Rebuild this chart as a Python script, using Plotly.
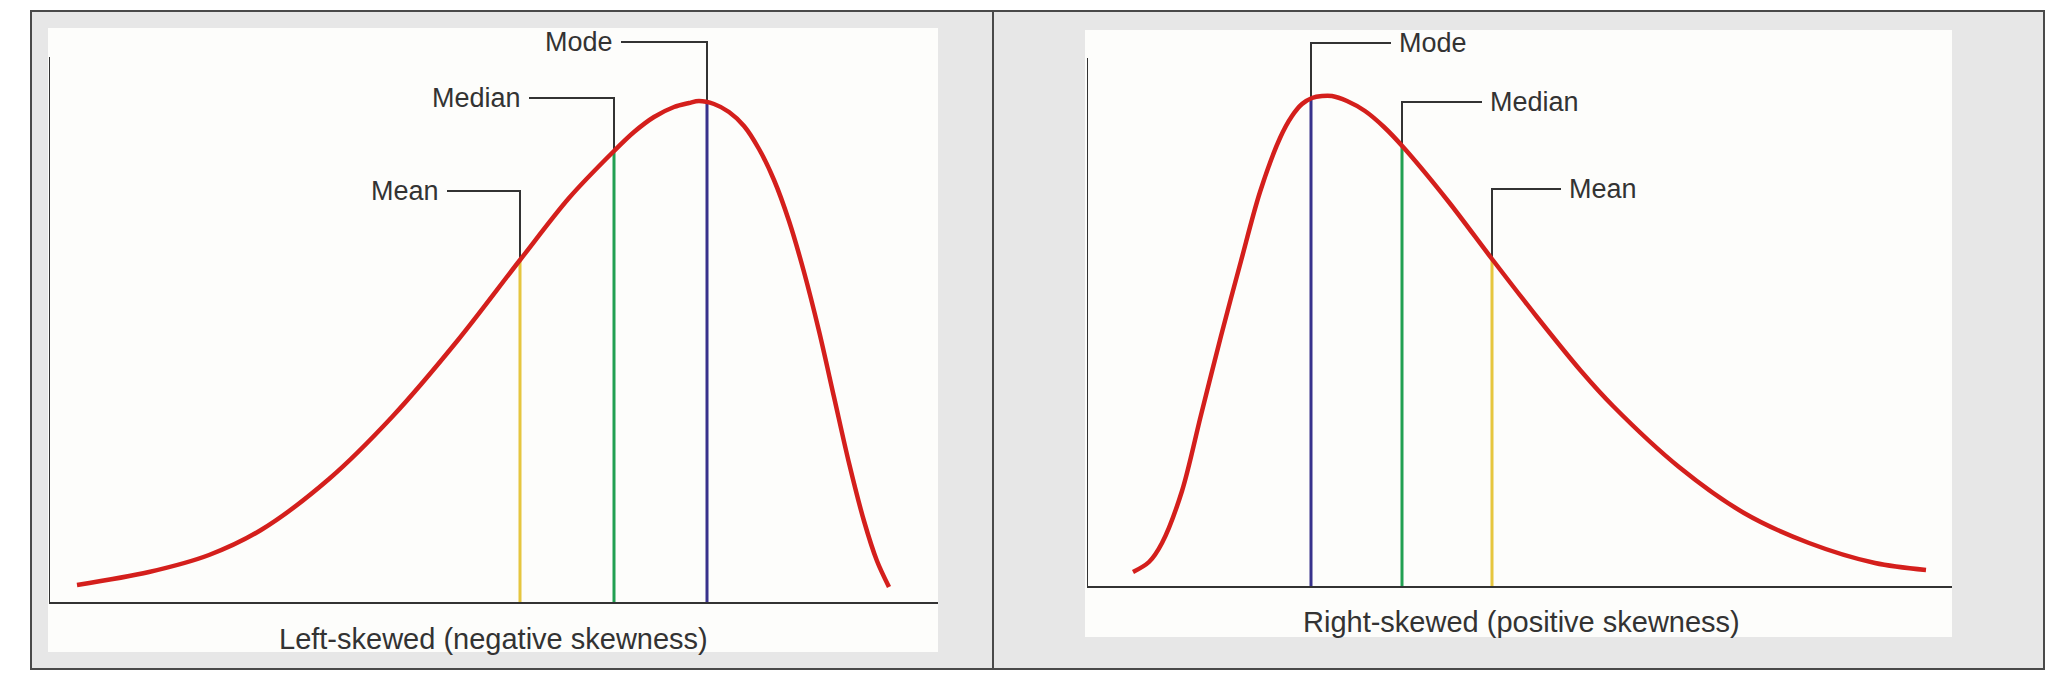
import plotly.graph_objects as go

W, H = 2050, 680

# ---------------- data (chart units) ----------------
# Left panel: left-skewed distribution
left_curve_x = [28, 100, 160, 212, 280, 343, 409, 471, 520, 565, 585, 605, 625, 640,
                650, 665, 680, 695, 710, 725, 740, 755, 770, 785, 800, 815, 828, 840]
left_curve_y = [17, 30, 47, 72, 123, 185, 262, 342, 404, 451, 470, 485, 495, 499,
                501, 498, 490, 476, 453, 422, 381, 330, 271, 205, 139, 81, 41, 15]
left_stat_names = ["Mean", "Median", "Mode"]
left_stat_x = [471, 565, 658]
left_stat_y = [342, 451, 499]
left_caption = "Left-skewed (negative skewness)"

# Right panel: right-skewed distribution
right_curve_x = [46, 62, 75, 95, 114, 134, 154, 173, 193, 205, 215, 225, 235, 245, 260,
                 278, 297, 317, 361, 405, 450, 494, 526, 592, 657, 722, 788, 839]
right_curve_y = [14, 24, 43, 95, 171, 250, 325, 394, 448, 470, 482, 488, 490, 490, 485,
                 475, 459, 438, 385, 327, 269, 215, 180, 119, 73, 43, 23, 16]
right_stat_names = ["Mode", "Median", "Mean"]
right_stat_x = [224, 315, 405]
right_stat_y = [488, 440, 327]
right_caption = "Right-skewed (positive skewness)"

# ---------------- styles / layout ----------------
stat_colors = {"Mean": "#e6c63e", "Median": "#22a052", "Mode": "#38328c"}
curve_color = "#d41f1c"
ink = "#333333"
font_family = "Liberation Sans, Arial, Helvetica, sans-serif"

# label levels (chart units) and horizontal leader length
left_label_y = [411, 504, 560]
left_leader = [73, 85, 86]
right_label_y = [543, 484, 397]
right_leader = [80, 80, 69]
left_yaxis_top = 545
right_yaxis_top = 528


def px(x):
    return x / W


def py(y):
    return 1 - y / H


fig = go.Figure()


def add_panel(xa, ya, cx, cy, names, sx, sy, label_y, leader, side, ytop):
    xr = "x" if xa == "xaxis" else "x2"
    yr = "y" if ya == "yaxis" else "y2"
    # y axis line
    fig.add_trace(go.Scatter(x=[0, 0], y=[0, ytop], mode="lines",
                             line=dict(color=ink, width=2), xaxis=xr, yaxis=yr,
                             hoverinfo="skip", showlegend=False))
    # coloured stat lines
    for n, x, y in zip(names, sx, sy):
        fig.add_trace(go.Scatter(x=[x, x], y=[0, y], mode="lines",
                                 line=dict(color=stat_colors[n], width=3),
                                 xaxis=xr, yaxis=yr, hoverinfo="skip", showlegend=False))
    # leaders + labels
    for n, x, y, ly, ld in zip(names, sx, sy, label_y, leader):
        x0 = x - ld if side == "left" else x + ld
        fig.add_trace(go.Scatter(x=[x0, x, x], y=[ly, ly, y], mode="lines",
                                 line=dict(color=ink, width=2),
                                 xaxis=xr, yaxis=yr, hoverinfo="skip", showlegend=False))
        fig.add_annotation(x=x0 - 6 if side == "left" else x0 + 6, y=ly, xref=xr, yref=yr,
                           text=n, showarrow=False,
                           xanchor="right" if side == "left" else "left",
                           yanchor="middle",
                           font=dict(family=font_family, size=27, color=ink))
    # the distribution curve
    fig.add_trace(go.Scatter(x=cx, y=cy, mode="lines",
                             line=dict(color=curve_color, width=4.5, shape="spline",
                                       smoothing=0.9),
                             xaxis=xr, yaxis=yr, hoverinfo="skip", showlegend=False))


add_panel("xaxis", "yaxis", left_curve_x, left_curve_y, left_stat_names,
          left_stat_x, left_stat_y, left_label_y, left_leader, "left", left_yaxis_top)
add_panel("xaxis2", "yaxis2", right_curve_x, right_curve_y, right_stat_names,
          right_stat_x, right_stat_y, right_label_y, right_leader, "right", right_yaxis_top)

# captions
fig.add_annotation(x=px(493), y=py(639), xref="paper", yref="paper", text=left_caption,
                   showarrow=False, xanchor="center", yanchor="middle",
                   font=dict(family=font_family, size=29, color=ink))
fig.add_annotation(x=px(1521), y=py(622), xref="paper", yref="paper", text=right_caption,
                   showarrow=False, xanchor="center", yanchor="middle",
                   font=dict(family=font_family, size=29, color=ink))

shapes = [
    # grey frame
    dict(type="rect", xref="paper", yref="paper", x0=px(31), x1=px(2044), y0=py(669), y1=py(11),
         fillcolor="#e7e7e7", line=dict(color="#4a4a4a", width=2), layer="below"),
    # divider
    dict(type="line", xref="paper", yref="paper", x0=px(993), x1=px(993), y0=py(669), y1=py(11),
         line=dict(color="#4a4a4a", width=2), layer="below"),
    # white image areas
    dict(type="rect", xref="paper", yref="paper", x0=px(48), x1=px(938), y0=py(652), y1=py(28),
         fillcolor="#fdfdfb", line=dict(width=0), layer="below"),
    dict(type="rect", xref="paper", yref="paper", x0=px(1085), x1=px(1952), y0=py(637), y1=py(30),
         fillcolor="#fdfdfb", line=dict(width=0), layer="below"),
]

axis_common = dict(showgrid=False, zeroline=False, showticklabels=False, ticks="",
                   fixedrange=True)
fig.update_layout(
    width=W, height=H, margin=dict(l=0, r=0, t=0, b=0),
    paper_bgcolor="white", plot_bgcolor="rgba(0,0,0,0)",
    showlegend=False, shapes=shapes,
    xaxis=dict(domain=[px(49), px(938)], range=[0, 889], showline=True, linecolor=ink,
               linewidth=2, anchor="y", **axis_common),
    yaxis=dict(domain=[py(602), py(28)], range=[0, 574], showline=False, anchor="x",
               **axis_common),
    xaxis2=dict(domain=[px(1087), px(1952)], range=[0, 865], showline=True, linecolor=ink,
                linewidth=2, anchor="y2", **axis_common),
    yaxis2=dict(domain=[py(586), py(30)], range=[0, 556], showline=False, anchor="x2",
                **axis_common),
)

fig.write_html("out.html", config={"displayModeBar": False, "staticPlot": True},
               post_script="document.body.style.margin='0';")
